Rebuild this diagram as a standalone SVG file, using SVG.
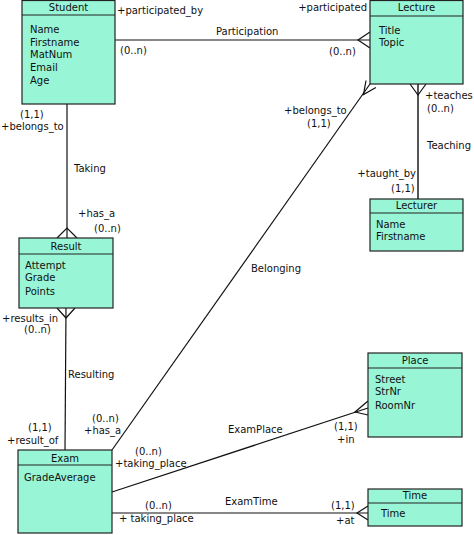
<svg xmlns="http://www.w3.org/2000/svg" width="474" height="535" viewBox="0 0 474 535">
<style>
text{font-family:"DejaVu Sans","Liberation Sans",sans-serif;font-size:10px;fill:#111}
.box{fill:#98f5d6;stroke:#222;stroke-width:1.2}
.hd{stroke:#222;stroke-width:1.2}
.t{text-anchor:middle}
.ln{fill:none;stroke:#111;stroke-width:1.2}
.gl{fill:none;stroke:#555;stroke-width:2}
</style>
<rect width="474" height="535" fill="#fff"/>
<g id="connectors">
<g id="participation">
<line class="ln" x1="115" y1="40" x2="370" y2="40"/>
<polyline class="ln" points="370,32 358,40 370,48"/>
<text x="117" y="14">+participated_by</text>
<text x="216" y="35">Participation</text>
<text x="120" y="54">(0..n)</text>
<text x="367" y="11" text-anchor="end">+participated</text>
<text x="329" y="55">(0..n)</text>
</g>
<g id="taking">
<line class="ln" x1="67" y1="104" x2="67" y2="238"/>
<polyline class="ln" points="57,238 67,228 77,238"/>
<text x="20" y="118">(1,1)</text>
<text x="1" y="130">+belongs_to</text>
<text x="74" y="172">Taking</text>
<text x="78" y="217">+has_a</text>
<text x="94" y="232">(0..n)</text>
</g>
<g id="resulting">
<line class="ln" x1="66" y1="308" x2="65" y2="450"/>
<polyline class="ln" points="57,308 66,318 75,308"/>
<text x="2" y="322">+results_in</text>
<text x="24" y="333">(0..n)</text>
<text x="68" y="378">Resulting</text>
<text x="28" y="431">(1,1)</text>
<text x="7" y="444">+result_of</text>
</g>
<g id="belonging">
<line class="ln" x1="112" y1="450" x2="370" y2="84"/>
<polyline class="ln" points="366,80.5 363.5,94.6 375.9,87.5"/>
<text x="284" y="114">+belongs_to</text>
<text x="307" y="127">(1,1)</text>
<text x="251" y="272">Belonging</text>
<text x="92" y="422">(0..n)</text>
<text x="84" y="434">+has_a</text>
</g>
<g id="teaching">
<line class="gl" x1="418" y1="84" x2="418" y2="199"/>
<polyline class="ln" points="410,84 418,95 426,84"/>
<text x="425" y="99">+teaches</text>
<text x="427" y="112">(0..n)</text>
<text x="427" y="149">Teaching</text>
<text x="416" y="177" text-anchor="end">+taught_by</text>
<text x="391" y="192">(1,1)</text>
</g>
<g id="examplace">
<line class="ln" x1="112" y1="492" x2="368" y2="408"/>
<polyline class="ln" points="368,401 355,412 368,415"/>
<text x="135" y="455">(0..n)</text>
<text x="115" y="467">+taking_place</text>
<text x="228" y="433">ExamPlace</text>
<text x="334" y="430">(1,1)</text>
<text x="337" y="443">+in</text>
</g>
<g id="examtime">
<line class="ln" x1="112" y1="513" x2="368" y2="513"/>
<polyline class="ln" points="368,506 357,513 368,520"/>
<text x="145" y="509">(0..n)</text>
<text x="119" y="522">+ taking_place</text>
<text x="225" y="505">ExamTime</text>
<text x="331" y="509">(1,1)</text>
<text x="336" y="524">+at</text>
</g>
</g>
<g id="Student">
<rect class="box" x="22" y="0.5" width="93" height="103.5"/>
<line class="hd" x1="22" y1="15" x2="115" y2="15"/>
<text class="t" x="68.5" y="11">Student</text>
<text x="30" y="33">Name</text>
<text x="30" y="46">Firstname</text>
<text x="30" y="58">MatNum</text>
<text x="30" y="71">Email</text>
<text x="30" y="84">Age</text>
</g>
<g id="Lecture">
<rect class="box" x="370" y="0.5" width="93" height="83.5"/>
<line class="hd" x1="370" y1="16" x2="463" y2="16"/>
<text class="t" x="416.5" y="11">Lecture</text>
<text x="379" y="34">Title</text>
<text x="379" y="46">Topic</text>
</g>
<g id="Lecturer">
<rect class="box" x="370" y="199" width="93" height="52"/>
<line class="hd" x1="370" y1="213" x2="463" y2="213"/>
<text class="t" x="416.5" y="209">Lecturer</text>
<text x="376" y="228">Name</text>
<text x="376" y="240">Firstname</text>
</g>
<g id="Result">
<rect class="box" x="19" y="238" width="94" height="70"/>
<line class="hd" x1="19" y1="254" x2="113" y2="254"/>
<text class="t" x="66" y="250">Result</text>
<text x="25" y="269">Attempt</text>
<text x="25" y="281">Grade</text>
<text x="25" y="295">Points</text>
</g>
<g id="Exam">
<rect class="box" x="18" y="450" width="94" height="83"/>
<line class="hd" x1="18" y1="465" x2="112" y2="465"/>
<text class="t" x="65" y="462">Exam</text>
<text x="24" y="481">GradeAverage</text>
</g>
<g id="Place">
<rect class="box" x="368" y="353" width="94" height="84"/>
<line class="hd" x1="368" y1="368" x2="462" y2="368"/>
<text class="t" x="415" y="364">Place</text>
<text x="375" y="383">Street</text>
<text x="375" y="395">StrNr</text>
<text x="375" y="409">RoomNr</text>
</g>
<g id="Time">
<rect class="box" x="368" y="489" width="94" height="37"/>
<line class="hd" x1="368" y1="503" x2="462" y2="503"/>
<text class="t" x="415" y="499">Time</text>
<text x="381" y="517">Time</text>
</g>
</svg>
